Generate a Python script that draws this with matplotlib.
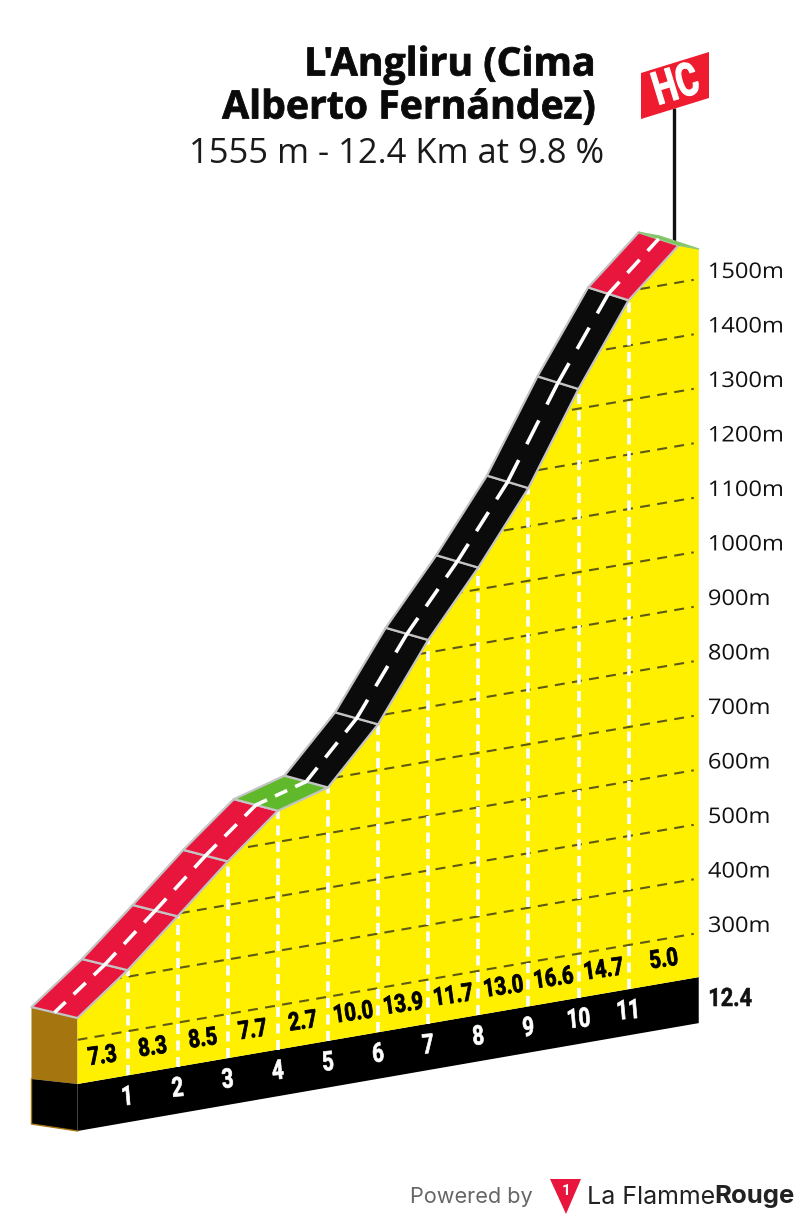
import numpy as np
import matplotlib
matplotlib.use("Agg")
import matplotlib.pyplot as plt
from matplotlib.patches import Polygon
from matplotlib.patheffects import AbstractPathEffect
from matplotlib.transforms import Affine2D

km = [0, 1, 2, 3, 4, 5, 6, 7, 8, 9, 10, 11, 12, 12.4]
elevation = [340, 412, 495, 580, 657, 684, 784, 923, 1040, 1170, 1336, 1483, 1568, 1555]
segment_colors = ["#E8163C", "#E8163C", "#E8163C", "#E8163C", "#5FB92A", "#0B0B0B", "#0B0B0B",
                  "#0B0B0B", "#0B0B0B", "#0B0B0B", "#0B0B0B", "#E8163C", "#7CC35A"]
gradients = ["7.3", "8.3", "8.5", "7.7", "2.7", "10.0", "13.9", "11.7", "13.0", "16.6", "14.7", "5.0"]
grid_elev = [300, 400, 500, 600, 700, 800, 900, 1000, 1100, 1200, 1300, 1400, 1500]
km_ticks = [1, 2, 3, 4, 5, 6, 7, 8, 9, 10, 11]
title_lines = ["L'Angliru (Cima", "Alberto Fernández)"]
subtitle = "1555 m - 12.4 Km at 9.8 %"
total_km = "12.4"
category = "HC"

plt.rcParams["lines.scale_dashes"] = False
BOLD = ["Roboto", "DejaVu Sans"]
SANS = ["Open Sans", "DejaVu Sans"]
FOOT = ["Inter", "DejaVu Sans"]
PX = 0.72


class Squeeze(AbstractPathEffect):
    """Draw real text narrower or wider along its own baseline, optionally heavier."""

    def __init__(self, sx=1.0, anchor=0.5, stroke=0.0):
        super().__init__()
        self.sx, self.anchor, self.stroke = sx, anchor, stroke

    def draw_path(self, renderer, gc, tpath, affine, rgbFace=None):
        ext = tpath.get_extents()
        ox = ext.x0 + self.anchor * ext.width
        aff = Affine2D().translate(-ox, 0).scale(self.sx, 1).translate(ox, 0) + affine
        g = renderer.new_gc()
        g.copy_properties(gc)
        if self.stroke > 0:
            g.set_linewidth(self.stroke)
            g.set_foreground(rgbFace[:3])
            g.set_joinstyle("round")
        else:
            g.set_linewidth(0)
        renderer.draw_path(g, tpath, aff, rgbFace)
        g.restore()


fig = plt.figure(figsize=(8, 12.21), dpi=100, facecolor="white")
ax = fig.add_axes([0, 0, 1, 1])
ax.set_xlim(0, 800)
ax.set_ylim(1221, 0)
ax.axis("off")

BASE_ELEV = 219
XK, SK, YM = 50.1, 8.62, 0.545


def proj(k, e=BASE_ELEV, depth=0.0):
    """Oblique projection: distance (km), elevation (m), road depth (0 front, 1 back)."""
    k = np.asarray(k, float)
    e = np.asarray(e, float)
    x = 77.5 + XK * k + depth * (-46 + 0.5 * k)
    y = 1084 - SK * k - YM * (e - BASE_ELEV) + depth * (-11 - 0.17 * k)
    return x, y


def poly(xs, ys, **kw):
    p = Polygon(np.column_stack([xs, ys]), closed=True, **kw)
    ax.add_patch(p)
    return p


k = np.array(km, float)
e = np.array(elevation, float)
end = k[-1]

# front strip under the profile
bx, by = proj([0, end])
poly([bx[0], bx[1], bx[1], bx[0]], [by[0], by[1], by[1] + 46, by[0] + 47], fc="black", ec="none", zorder=1)
# left side
fx, fy = proj(0, elevation[0])
sx, sy = proj(0, elevation[0], depth=1)
poly([sx, fx, fx, sx], [sy, fy, by[0], by[0] - 5], fc="#A5750F", ec="none", zorder=1)
poly([sx, fx, fx, sx], [by[0] - 5, by[0], by[0] + 47, by[0] + 40], fc="black", ec="none", zorder=1)
ax.plot([sx, sx, fx], [by[0] - 5, by[0] + 40, by[0] + 47], color="#A5750F", lw=1, zorder=1.1)

# yellow face
px, py = proj(k, e)
yellow = poly(np.r_[px, bx[1], bx[0]], np.r_[py, by[1], by[0]], fc="#FFF000", ec="none", zorder=2)

# elevation grid
for g in grid_elev:
    gx, gy = proj([0, end - 0.1], [g, g])
    ln, = ax.plot(gx, gy, color="#5E5A14", lw=1.5, dashes=(10 * PX, 7.3 * PX), zorder=3,
                  dash_capstyle="butt")
    ln.set_clip_path(yellow)
    lx, ly = proj(end, g)
    ax.text(708, ly - 6.5, f"{g}m", family=SANS, fontsize=15.5, color="#111111", ha="left", va="center",
            zorder=6, path_effects=[Squeeze(1.1, 0.0)])

# kilometre verticals
for t in km_ticks:
    vx, vb = proj(t)
    _, vt = proj(t, elevation[km.index(t)])
    ax.plot([vx, vx], [vb, vt], color="white", lw=3.6 * PX, dashes=(10 * PX, 6.5 * PX), zorder=4,
            dash_capstyle="butt")
    ax.text(vx, vb + 22, str(t), family=BOLD, weight="bold", fontsize=19.5, color="white",
            ha="center", va="center", rotation=5, zorder=6, path_effects=[Squeeze(0.76, 0.5, 0.5)])

# gradient labels
for i, lab in enumerate(gradients):
    mid = (km[i] + km[i + 1]) / 2 if i < 11 else 11.7
    gx, gy = proj(mid)
    ax.text(gx, gy - 23.5, lab, family=BOLD, weight="bold", fontsize=18, color="black",
            ha="center", va="center", rotation=8, zorder=6, path_effects=[Squeeze(0.8, 0.5, 0.6)])

# road surface
for i, c in enumerate(segment_colors):
    ax1, ay1 = proj(k[i], e[i])
    ax2, ay2 = proj(k[i + 1], e[i + 1])
    bx1, by1 = proj(k[i], e[i], depth=1)
    bx2, by2 = proj(k[i + 1], e[i + 1], depth=1)
    last = i == len(segment_colors) - 1
    poly([ax1, ax2, bx2, bx1], [ay1, ay2, by2, by1], fc=c, ec="#8CC878" if last else "#C4C4C4",
         lw=1.0 if last else 1.6, joinstyle="round", zorder=5)

# centre line: a long dash across every km mark and a short one between
cx, cy = proj(k, e, depth=0.5)
for mark in range(0, 13):
    lo, hi = max(mark - 0.22, 0), min(mark + 0.22, 12)
    ts = [lo, mark, hi] if lo < mark < hi else [lo, hi]
    ax.plot(np.interp(ts, k, cx), np.interp(ts, k, cy), color="white", lw=3.6 * PX, zorder=5.5,
            solid_capstyle="butt")
    if mark < 12:
        ts = [mark + 0.38, mark + 0.62]
        ax.plot(np.interp(ts, k, cx), np.interp(ts, k, cy), color="white", lw=3.6 * PX, zorder=5.5,
                solid_capstyle="butt")

# category flag
ax.plot([674, 674], [108, 241], color="#111111", lw=2.4, zorder=4.5, solid_capstyle="butt")
poly([641, 709, 709, 641], [73, 52, 98, 119], fc="#EE1C2E", ec="none", zorder=6)
ax.text(676, 86, category, family=BOLD, weight="bold", fontsize=33, color="white",
        ha="center", va="center", rotation=17, zorder=7, path_effects=[Squeeze(0.74, 0.5, 0.8)])

# titles
for y, line in zip([65, 108], title_lines):
    ax.text(595, y, line, family=SANS, weight="bold", fontsize=28.2, color="#0A0A0A",
            ha="right", va="center", path_effects=[Squeeze(1.0, 1.0, 0.6)])
ax.text(604, 154, subtitle, family=SANS, fontsize=24.8, color="#1A1A1A", ha="right", va="center")
ax.text(708, 999, total_km, family=BOLD, weight="bold", fontsize=18.2, color="#111111",
        ha="left", va="center", path_effects=[Squeeze(0.86, 0.0, 0.4)])

# footer
ax.text(533, 1197, "Powered by", family=FOOT, fontsize=15.6, color="#666666", ha="right", va="center")
poly([550, 581, 566], [1179, 1179, 1214], fc="#E8163C", ec="none")
ax.text(566, 1191, "1", family=BOLD, weight="bold", fontsize=11, color="white", ha="center", va="center")
ax.text(587, 1197, "La Flamme", family=FOOT, fontsize=18, color="#222222", ha="left", va="center")
ax.text(794, 1197, "Rouge", family=FOOT, weight="bold", fontsize=18.5, color="#222222", ha="right", va="center")

fig.savefig("out.png", dpi=100, facecolor="white")
